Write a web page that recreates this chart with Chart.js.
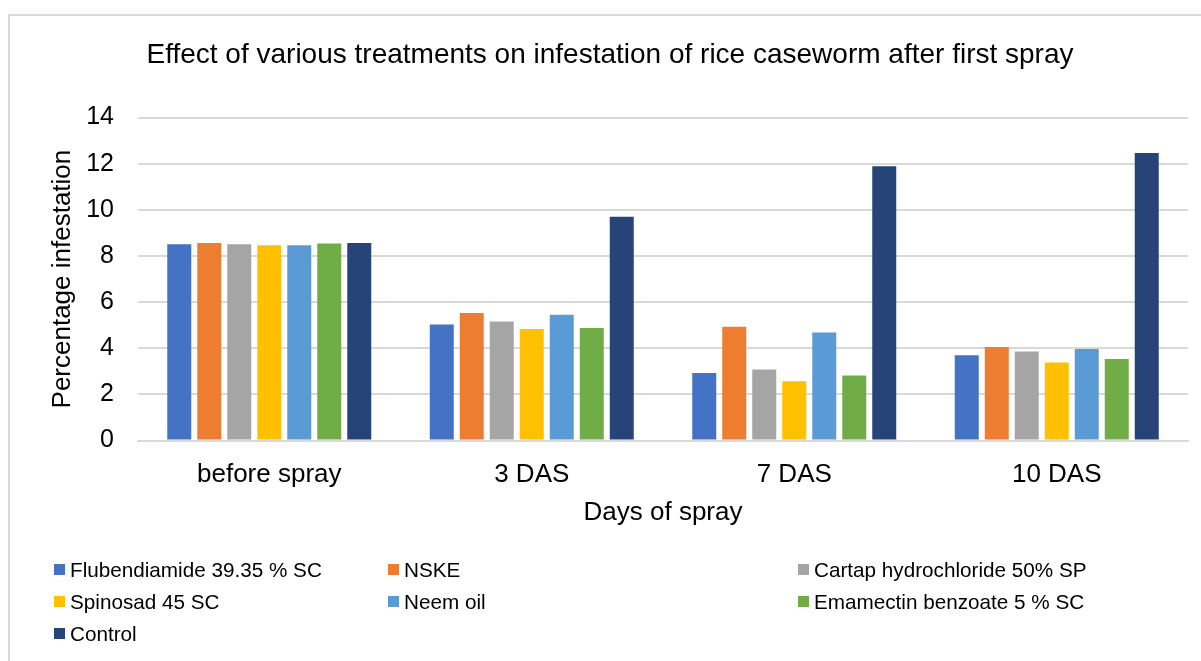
<!DOCTYPE html>
<html>
<head>
<meta charset="utf-8">
<script src="https://cdn.jsdelivr.net/npm/chart.js@4.4.1/dist/chart.umd.min.js"></script>
<style>
    html, body { margin: 0; padding: 0; background: #fff; overflow: hidden; }
    #wrap { position: relative; width: 1201px; height: 661px; }
    #frame { position: absolute; left: 8px; top: 14px; width: 1230px; height: 700px; border: 2px solid #d9d9d9; box-sizing: border-box; }
    #chart { position: absolute; left: 0; top: 0; }
    #legend {
        position: absolute; left: 54px; top: 557px; width: 1140px;
        display: grid; grid-template-columns: 334px 410px 380px; row-gap: 7px;
        font-family: "Liberation Sans", Arial, sans-serif; font-size: 20.7px; color: #000;
    }
    #legend .item { display: flex; align-items: center; height: 25px; white-space: nowrap; }
    #legend .box { width: 11px; height: 11px; margin-right: 5px; flex: none; }
</style>
</head>
<body>
<div id="wrap">
    <div id="frame"></div>
    <canvas id="chart" width="1201" height="661"></canvas>
    <div id="legend"></div>
</div>
<script>
const categories = ['before spray', '3 DAS', '7 DAS', '10 DAS'];
const treatments = ['Flubendiamide 39.35 % SC', 'NSKE', 'Cartap hydrochloride 50% SP', 'Spinosad 45 SC', 'Neem oil', 'Emamectin benzoate 5 % SC', 'Control'];
const colors = ['#4472C4', '#ED7D31', '#A5A5A5', '#FFC000', '#5B9BD5', '#70AD47', '#264478'];

const flubendiamide = [8.51, 5.03, 2.93, 3.70];
const nske = [8.57, 5.53, 4.93, 4.06];
const cartap = [8.51, 5.16, 3.08, 3.86];
const spinosad = [8.47, 4.84, 2.57, 3.39];
const neemOil = [8.47, 5.45, 4.69, 3.97];
const emamectin = [8.54, 4.88, 2.82, 3.54];
const control = [8.57, 9.70, 11.89, 12.47];

const yTicks = [0, 2, 4, 6, 8, 10, 12, 14];

const seriesValues = [flubendiamide, nske, cartap, spinosad, neemOil, emamectin, control];
const font = '"Liberation Sans", Arial, sans-serif';

// legend drawn as html so the items sit in three columns like the original
const htmlLegend = {
    id: 'htmlLegend',
    afterUpdate(chart) {
        const el = document.getElementById('legend');
        el.innerHTML = '';
        chart.data.datasets.forEach(ds => {
            const item = document.createElement('div');
            item.className = 'item';
            const box = document.createElement('span');
            box.className = 'box';
            box.style.background = ds.backgroundColor;
            const txt = document.createElement('span');
            txt.textContent = ds.label;
            item.appendChild(box);
            item.appendChild(txt);
            el.appendChild(item);
        });
    }
};

const ctx = document.getElementById('chart').getContext('2d');
new Chart(ctx, {
    type: 'bar',
    data: {
        labels: categories,
        datasets: treatments.map((name, i) => ({
            label: name,
            data: seriesValues[i],
            backgroundColor: colors[i],
            categoryPercentage: 0.8,
            barPercentage: 0.8
        }))
    },
    options: {
        responsive: false,
        animation: false,
        layout: { padding: { left: 32, right: 13, top: 38, bottom: 133 } },
        plugins: {
            legend: { display: false },
            tooltip: { enabled: false },
            title: {
                display: true,
                text: 'Effect of various treatments on infestation of rice caseworm after first spray',
                color: '#000',
                font: { family: font, size: 28, weight: 'normal' },
                padding: { top: 0, bottom: 46 }
            }
        },
        scales: {
            x: {
                grid: { display: false, drawTicks: false },
                border: { color: '#d9d9d9', width: 2 },
                ticks: { color: '#000', font: { family: font, size: 26 }, padding: 19 },
                title: {
                    display: true, text: 'Days of spray', color: '#000',
                    font: { family: font, size: 26 }, padding: { top: -13, bottom: 0 }
                }
            },
            y: {
                min: 0, max: 14,
                afterBuildTicks: axis => { axis.ticks = yTicks.map(v => ({ value: v })); },
                grid: { color: '#d9d9d9', lineWidth: 2, drawTicks: false },
                border: { display: false },
                ticks: { color: '#000', font: { family: font, size: 25 }, padding: 24 },
                title: {
                    display: true, text: 'Percentage infestation', color: '#000',
                    font: { family: font, size: 26 }, padding: { top: 15, bottom: -16 }
                }
            }
        }
    },
    plugins: [htmlLegend]
});
</script>
</body>
</html>
